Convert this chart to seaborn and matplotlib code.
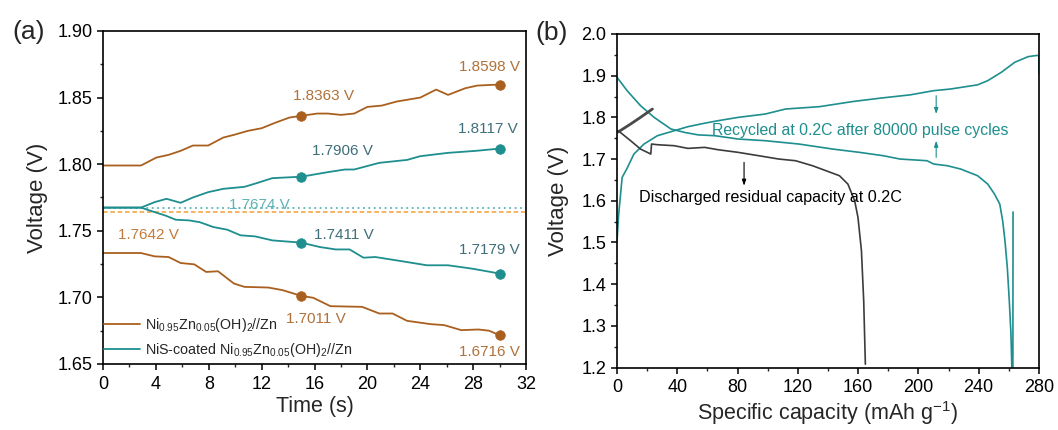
import matplotlib
matplotlib.use("Agg")
import matplotlib.pyplot as plt
import seaborn as sns
import numpy as np
import pandas as pd
from matplotlib.ticker import AutoMinorLocator

# ---------------- data: panel (a) ----------------
t_brown_up = [0, 2.87, 4.04, 4.96, 5.87, 6.8, 7.95, 9.1, 9.9, 10.95, 12.0, 13.0, 14.1, 15.0, 16.2,
              17.0, 18.0, 19.0, 20.0, 21.1, 22.2, 24.0, 25.2, 26.1, 27.4, 28.3, 30.0]
v_brown_up = [1.799, 1.799, 1.805, 1.807, 1.810, 1.814, 1.814, 1.820, 1.822, 1.825, 1.827, 1.831,
              1.835, 1.8363, 1.838, 1.838, 1.837, 1.838, 1.843, 1.844, 1.847, 1.850, 1.856, 1.852,
              1.857, 1.859, 1.8598]
t_brown_dn = [0, 2.87, 3.9, 4.96, 5.87, 6.9, 7.8, 8.7, 9.9, 10.7, 12.5, 13.6, 15.0, 15.9, 17.2,
              19.6, 20.9, 21.9, 23.0, 24.8, 25.8, 27.1, 28.4, 29.2, 30.0]
v_brown_dn = [1.7333, 1.7333, 1.7308, 1.7303, 1.7258, 1.7248, 1.7191, 1.7196, 1.7104, 1.7079,
              1.7074, 1.7054, 1.7011, 1.6997, 1.6934, 1.6929, 1.6879, 1.6879, 1.6824, 1.6799,
              1.6792, 1.6754, 1.6759, 1.6750, 1.6716]
t_teal_up = [0, 2.87, 3.9, 4.8, 5.87, 6.8, 7.95, 9.1, 10.7, 11.7, 12.8, 15.0, 17.0, 18.3, 19.0,
             20.9, 23.0, 24.0, 26.1, 28.2, 30.0]
v_teal_up = [1.7674, 1.7674, 1.7715, 1.774, 1.771, 1.775, 1.779, 1.7815, 1.783, 1.786, 1.7895,
             1.7906, 1.794, 1.796, 1.796, 1.801, 1.8032, 1.806, 1.8085, 1.810, 1.8117]
t_teal_dn = [0, 2.87, 3.9, 4.7, 5.5, 6.5, 7.3, 8.35, 9.4, 10.4, 11.5, 12.8, 15.0, 16.4, 17.6,
             18.65, 19.7, 20.6, 22.7, 24.5, 26.1, 27.9, 30.0]
v_teal_dn = [1.7674, 1.7674, 1.764, 1.7615, 1.7583, 1.7578, 1.7565, 1.7528, 1.7508, 1.7466,
             1.7458, 1.7428, 1.7411, 1.7378, 1.736, 1.736, 1.7298, 1.7303, 1.727, 1.7241,
             1.7241, 1.7216, 1.7179]

mark_t = [15, 30]
brown_up_marks = [1.8363, 1.8598]
brown_dn_marks = [1.7011, 1.6716]
teal_up_marks = [1.7906, 1.8117]
teal_dn_marks = [1.7411, 1.7179]
ref_teal = 1.7674
ref_brown = 1.7642

label_brown = r"Ni$_{0.95}$Zn$_{0.05}$(OH)$_{2}$//Zn"
label_teal = r"NiS-coated Ni$_{0.95}$Zn$_{0.05}$(OH)$_{2}$//Zn"

a_xticks = [0, 4, 8, 12, 16, 20, 24, 28, 32]
a_yticks = [1.65, 1.70, 1.75, 1.80, 1.85, 1.90]
a_yticklabels = ["1.65", "1.70", "1.75", "1.80", "1.85", "1.90"]

# ---------------- data: panel (b) ----------------
cap_charge = [0, 1.1, 3.4, 6.7, 11.2, 17.9, 26.8, 35.8, 47, 58.2, 67.1, 80.5, 98.4, 111.8, 134.2,
              156.6, 174.5, 194.6, 210.2, 221.4, 239.3, 246, 255, 263.9, 272.8, 278.5, 280, 280]
v_charge = [1.504, 1.568, 1.656, 1.678, 1.712, 1.736, 1.756, 1.7656, 1.7776, 1.786, 1.792, 1.800,
            1.808, 1.820, 1.8256, 1.838, 1.846, 1.854, 1.864, 1.868, 1.878, 1.888, 1.908, 1.932,
            1.9456, 1.9485, 1.948, 1.905]
cap_dis = [0, 6.7, 15.6, 24.6, 35.8, 44.7, 53.7, 64.9, 80.5, 98.4, 120.7, 143.1, 161, 176.7,
           187.8, 205.7, 210.2, 219.2, 228.1, 239.3, 246, 250.5, 254, 256, 257.4, 259, 260.3,
           261.4, 262.0, 262.7, 262.8]
v_dis = [1.896, 1.864, 1.828, 1.800, 1.772, 1.764, 1.758, 1.756, 1.748, 1.744, 1.736, 1.724,
         1.716, 1.708, 1.700, 1.696, 1.688, 1.684, 1.676, 1.660, 1.640, 1.616, 1.592, 1.550,
         1.505, 1.440, 1.361, 1.282, 1.200, 1.200, 1.573]
cap_res_ch = [0.8, 9, 15.6, 23.5]
v_res_ch = [1.765, 1.784, 1.800, 1.820]
cap_res_dis = [0.8, 9, 15.6, 22.4, 22.9, 26.8, 38, 47, 58.2, 67, 80.5, 94, 107.4, 118.5, 129.7,
               138.7, 147.6, 153.2, 157.7, 159.9, 162.2, 163.7, 164.8]
v_res_dis = [1.768, 1.744, 1.724, 1.712, 1.736, 1.7344, 1.732, 1.7256, 1.728, 1.7224, 1.716,
             1.708, 1.700, 1.696, 1.684, 1.672, 1.660, 1.640, 1.600, 1.560, 1.480, 1.360, 1.208]

b_xticks = [0, 40, 80, 120, 160, 200, 240, 280]
b_yticks = [1.2, 1.3, 1.4, 1.5, 1.6, 1.7, 1.8, 1.9, 2.0]
b_yticklabels = ["1.2", "1.3", "1.4", "1.5", "1.6", "1.7", "1.8", "1.9", "2.0"]

# ---------------- style ----------------
sns.set_style("ticks")
plt.rcParams["font.family"] = ["Liberation Sans", "DejaVu Sans"]
plt.rcParams["mathtext.fontset"] = "custom"
plt.rcParams["mathtext.rm"] = "Liberation Sans"
plt.rcParams["mathtext.it"] = "Liberation Sans:italic"
plt.rcParams["mathtext.bf"] = "Liberation Sans:bold"
plt.rcParams["axes.edgecolor"] = "black"
plt.rcParams["axes.linewidth"] = 1.2

BROWN = "#A9601F"
BROWN_TXT = "#B0713A"
TEAL = "#1E8E8E"
TEAL_TXT = "#3F6F7A"
TEAL_LIGHT = "#5DB3B5"
ORANGE = "#F2A036"
GREY = "#3C3C3C"

fig = plt.figure(figsize=(10.58, 4.30), dpi=100)
axa = fig.add_axes([0.0974, 0.1535, 0.3998, 0.7745])
axb = fig.add_axes([0.5832, 0.1453, 0.3988, 0.7757])

def style_axes(ax):
    for s in ax.spines.values():
        s.set_visible(True)
        s.set_color("black")
        s.set_linewidth(1.2)
    ax.xaxis.set_minor_locator(AutoMinorLocator(2))
    ax.yaxis.set_minor_locator(AutoMinorLocator(2))
    ax.tick_params(which="major", direction="out", length=4.5, width=1.1, labelsize=13,
                   top=False, right=False, colors="black")
    ax.tick_params(which="minor", direction="out", length=2.5, width=1.0, top=False, right=False)
    ax.tick_params(axis="y", which="major", pad=3)
    ax.tick_params(axis="x", which="major", pad=4)

# ---------------- panel (a) ----------------
axa.axhline(ref_teal, color=TEAL_LIGHT, lw=1.3, ls=(0, (1, 2)), zorder=1)
axa.axhline(ref_brown, color=ORANGE, lw=1.1, ls=(0, (3, 1.8)), zorder=1)

sns.lineplot(x=t_brown_up, y=v_brown_up, ax=axa, color=BROWN, lw=1.3, label=label_brown,
             sort=False, estimator=None)
sns.lineplot(x=t_brown_dn, y=v_brown_dn, ax=axa, color=BROWN, lw=1.3, sort=False, estimator=None)
sns.lineplot(x=t_teal_up, y=v_teal_up, ax=axa, color=TEAL, lw=1.3, label=label_teal,
             sort=False, estimator=None)
sns.lineplot(x=t_teal_dn, y=v_teal_dn, ax=axa, color=TEAL, lw=1.3, sort=False, estimator=None)

for vals, col in [(brown_up_marks, BROWN), (brown_dn_marks, BROWN),
                  (teal_up_marks, TEAL), (teal_dn_marks, TEAL)]:
    sns.scatterplot(x=mark_t, y=vals, ax=axa, color=col, s=48, edgecolor=col, linewidth=0.5,
                    zorder=5)

ann_a = [
    ("1.8363 V", 16.7, 1.851, BROWN_TXT),
    ("1.8598 V", 29.2, 1.8726, BROWN_TXT),
    ("1.7906 V", 18.1, 1.810, TEAL_TXT),
    ("1.8117 V", 29.1, 1.8264, TEAL_TXT),
    ("1.7411 V", 18.25, 1.7466, TEAL_TXT),
    ("1.7179 V", 29.2, 1.7353, TEAL_TXT),
    ("1.7011 V", 16.1, 1.6837, BROWN_TXT),
    ("1.6716 V", 29.2, 1.6587, BROWN_TXT),
    ("1.7674 V", 11.8, 1.7695, TEAL_LIGHT),
    ("1.7642 V", 3.45, 1.7466, "#C27B3C"),
]
for txt, x, y, c in ann_a:
    axa.text(x, y, txt, color=c, fontsize=11, ha="center", va="center", zorder=6)

axa.set_xlim(0, 32)
axa.set_ylim(1.65, 1.90)
axa.set_xticks(a_xticks)
axa.set_yticks(a_yticks)
axa.set_yticklabels(a_yticklabels)
style_axes(axa)
axa.set_xlabel("Time (s)", fontsize=15.5, labelpad=2)
axa.set_ylabel("Voltage (V)", fontsize=16, labelpad=7)

leg = axa.legend(loc="lower left", bbox_to_anchor=(-0.005, 0.005), frameon=False, fontsize=10.3,
                 handlelength=2.5, handletextpad=0.35, labelspacing=0.55, borderpad=0.2,
                 borderaxespad=0)
for h in leg.get_lines():
    h.set_linewidth(1.3)

# ---------------- panel (b) ----------------
sns.lineplot(x=cap_charge, y=v_charge, ax=axb, color=TEAL, lw=1.2, sort=False, estimator=None)
sns.lineplot(x=cap_dis, y=v_dis, ax=axb, color=TEAL, lw=1.2, sort=False, estimator=None)
sns.lineplot(x=cap_res_ch, y=v_res_ch, ax=axb, color="#4A4A4A", lw=2.0, sort=False,
             estimator=None)
sns.lineplot(x=cap_res_dis, y=v_res_dis, ax=axb, color=GREY, lw=1.2, sort=False, estimator=None)

axb.text(161.5, 1.768, "Recycled at 0.2C after 80000 pulse cycles", color=TEAL, fontsize=11.4,
         ha="center", va="center")
axb.text(101.8, 1.608, "Discharged residual capacity at 0.2C", color="black", fontsize=11.6,
         ha="center", va="center")

arrow_kw = dict(arrowstyle="-|>,head_length=0.35,head_width=0.12", lw=0.8, shrinkA=0, shrinkB=0)
axb.annotate("", xy=(211.8, 1.808), xytext=(211.8, 1.852), arrowprops=dict(color=TEAL, **arrow_kw))
axb.annotate("", xy=(211.8, 1.744), xytext=(211.8, 1.704), arrowprops=dict(color=TEAL, **arrow_kw))
axb.annotate("", xy=(84.3, 1.636), xytext=(84.3, 1.692), arrowprops=dict(color="black", **arrow_kw))

axb.set_xlim(0, 280)
axb.set_ylim(1.2, 2.0)
axb.set_xticks(b_xticks)
axb.set_yticks(b_yticks)
axb.set_yticklabels(b_yticklabels)
style_axes(axb)
axb.set_xlabel(r"Specific capacity (mAh g$^{-1}$)", fontsize=15.5, labelpad=2)
axb.set_ylabel("Voltage (V)", fontsize=16, labelpad=9)
if axb.get_legend() is not None:
    axb.get_legend().remove()

fig.text(0.0274, 0.9256, "(a)", fontsize=19, ha="center", va="center")
fig.text(0.5217, 0.923, "(b)", fontsize=19, ha="center", va="center")

fig.savefig("out.png", dpi=100)
